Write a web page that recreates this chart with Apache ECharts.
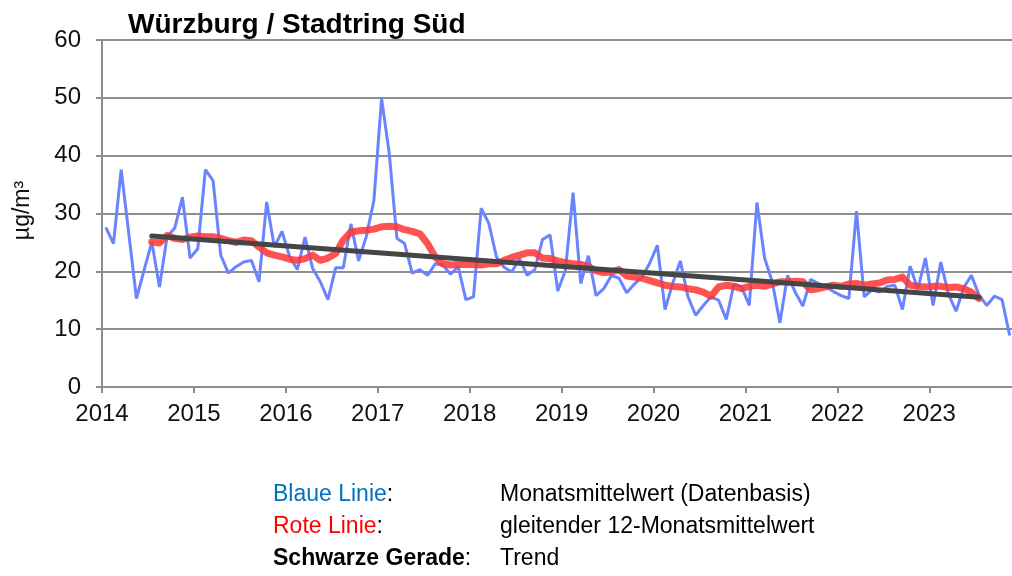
<!DOCTYPE html>
<html>
<head>
<meta charset="utf-8">
<script src="https://cdn.jsdelivr.net/npm/echarts@6/dist/echarts.min.js"></script>
<style>
  html, body { margin: 0; padding: 0; background: #fff; }
  #chart { width: 1012px; height: 576px; }
</style>
</head>
<body>
<div id="chart"></div>
<script>
// Monatsmittelwerte ab Januar 2014 (µg/m³)
const startYear = 2014
const monthly = [
  27.6, 24.8, 37.6, 26.5, 15.3, 20.2, 25.1, 17.3, 26.0, 27.5, 32.8, 22.3,
  23.9, 37.6, 35.7, 22.8, 19.7, 20.8, 21.6, 21.9, 18.2, 32.0, 24.2, 26.9,
  22.5, 20.3, 25.9, 20.5, 18.2, 15.1, 20.6, 20.6, 28.2, 21.8, 26.0, 32.3,
  49.9, 40.4, 25.7, 24.8, 19.7, 20.3, 19.3, 21.3, 21.1, 19.5, 20.8, 15.1,
  15.6, 30.9, 28.3, 22.5, 20.7, 19.9, 22.2, 19.3, 20.3, 25.5, 26.3, 16.6,
  20.2, 33.6, 17.9, 22.7, 15.8, 17.0, 19.3, 18.8, 16.3, 17.8, 19.0, 21.4,
  24.5, 13.4, 17.9, 21.8, 15.6, 12.4, 14.1, 15.6, 15.0, 11.7, 17.8, 17.3,
  14.1, 31.9, 22.3, 18.2, 11.1, 19.3, 16.4, 14.0, 18.6, 17.9, 17.3, 16.5,
  15.8, 15.3, 30.4, 15.6, 16.8, 16.4, 17.4, 17.6, 13.4, 20.9, 16.9, 22.3,
  14.1, 21.6, 16.1, 13.1, 17.2, 19.3, 15.9, 14.1, 15.7, 15.1, 8.9
]

// gleitender 12-Monatsmittelwert, beginnt im Juli 2014 (Monatsindex 6)
const rollingStart = 6
const rolling = [
  25.1, 24.9, 26.2, 25.7, 25.5, 25.9, 26.1, 26.0, 26.0, 25.7, 25.3, 25.0,
  25.4, 25.3, 24.2, 23.2, 22.8, 22.5, 22.1, 21.9, 22.2, 22.8, 21.9, 22.3,
  23.1, 25.4, 26.8, 27.0, 27.1, 27.3, 27.7, 27.8, 27.7, 27.2, 26.9, 26.5,
  24.8, 22.5, 21.3, 21.1, 21.2, 21.2, 21.2, 21.1, 21.3, 21.3, 21.9, 22.4,
  22.8, 23.2, 23.2, 22.3, 22.2, 21.8, 21.5, 21.3, 21.2, 20.8, 20.1, 19.8,
  19.9, 20.3, 19.2, 19.0, 18.8, 18.4, 18.0, 17.6, 17.4, 17.3, 17.0, 16.8,
  16.4, 15.7, 17.3, 17.6, 17.4, 17.0, 17.4, 17.6, 17.4, 17.8, 18.2, 18.2,
  18.3, 18.2, 16.8, 17.0, 17.3, 17.6, 17.4, 17.8, 17.9, 17.6, 17.8, 18.0,
  18.5, 18.6, 19.0, 17.6, 17.4, 17.3, 17.4, 17.4, 17.2, 17.3, 17.0, 16.4,
  15.3
]

// Trendgerade: [Monatsindex, Wert] an Anfang und Ende
const trendMonths = [6, 114]
const trendValues = [26.1, 15.5]

const yearTicks = [2014, 2015, 2016, 2017, 2018, 2019, 2020, 2021, 2022, 2023]

const monthToYear = i => startYear + (i + 0.5) / 12

const blueData = monthly.map((v, i) => [monthToYear(i), v])
const redData = rolling.map((v, i) => [monthToYear(i + rollingStart), v])
const trendData = trendMonths.map((m, i) => [monthToYear(m), trendValues[i]])

const font = '"Liberation Sans", Arial, sans-serif'
const gridGray = '#8e8e8e'
const legendFont = '23px ' + font

const chart = echarts.init(document.getElementById('chart'))

chart.setOption({
  animation: false,
  textStyle: { fontFamily: font },
  title: {
    text: 'Würzburg / Stadtring Süd',
    left: 123,
    top: 6,
    textStyle: { fontSize: 28, fontWeight: 'bold', color: '#000', fontFamily: font }
  },
  grid: { left: 102, right: 0, top: 40, bottom: 189 },
  xAxis: {
    type: 'value',
    min: yearTicks[0],
    max: 2023.9,
    interval: 1,
    axisLine: { lineStyle: { color: gridGray, width: 2 } },
    axisTick: { show: true, length: 6, lineStyle: { color: gridGray, width: 2 } },
    splitLine: { show: false },
    axisLabel: {
      showMaxLabel: false,
      margin: 15,
      fontSize: 24,
      color: '#111',
      formatter: v => (yearTicks.includes(Math.round(v)) && Math.abs(v - Math.round(v)) < 1e-6) ? String(Math.round(v)) : ''
    }
  },
  yAxis: {
    type: 'value',
    min: 0,
    max: 60,
    interval: 10,
    name: 'µg/m³',
    nameLocation: 'middle',
    nameRotate: 90,
    nameGap: 68,
    nameTextStyle: { fontSize: 23, color: '#111', padding: [0, 0, 0, 6] },
    axisLine: { show: true, lineStyle: { color: gridGray, width: 2 } },
    axisTick: { show: true, length: 6, lineStyle: { color: gridGray, width: 2 } },
    splitLine: { lineStyle: { color: gridGray, width: 2 } },
    axisLabel: { margin: 21, fontSize: 24, color: '#111' }
  },
  series: [
    {
      name: 'Monatsmittelwert',
      type: 'line',
      data: blueData,
      showSymbol: false,
      z: 2,
      lineStyle: { color: '#6a84ff', width: 3 }
    },
    {
      name: 'gleitender 12-Monatsmittelwert',
      type: 'line',
      data: redData,
      showSymbol: false,
      z: 3,
      lineStyle: { color: '#ff3535', width: 7, opacity: 0.85, cap: 'round', join: 'round' }
    },
    {
      name: 'Trend',
      type: 'line',
      data: trendData,
      showSymbol: false,
      z: 4,
      lineStyle: { color: '#454545', width: 5, cap: 'round' }
    }
  ],
  graphic: [
    {
      type: 'text', left: 273, top: 483,
      style: { text: '{c|Blaue Linie}:', font: legendFont, fill: '#000',
        rich: { c: { fill: '#0070c0', fontSize: 23, fontFamily: font } } }
    },
    {
      type: 'text', left: 273, top: 515,
      style: { text: '{c|Rote Linie}:', font: legendFont, fill: '#000',
        rich: { c: { fill: '#ff0000', fontSize: 23, fontFamily: font } } }
    },
    {
      type: 'text', left: 273, top: 547,
      style: { text: '{c|Schwarze Gerade}:', font: legendFont, fill: '#000',
        rich: { c: { fill: '#000', fontSize: 23, fontWeight: 'bold', fontFamily: font } } }
    },
    { type: 'text', left: 500, top: 483, style: { text: 'Monatsmittelwert (Datenbasis)', font: legendFont, fill: '#000' } },
    { type: 'text', left: 500, top: 515, style: { text: 'gleitender 12-Monatsmittelwert', font: legendFont, fill: '#000' } },
    { type: 'text', left: 500, top: 547, style: { text: 'Trend', font: legendFont, fill: '#000' } }
  ]
})
</script>
</body>
</html>
